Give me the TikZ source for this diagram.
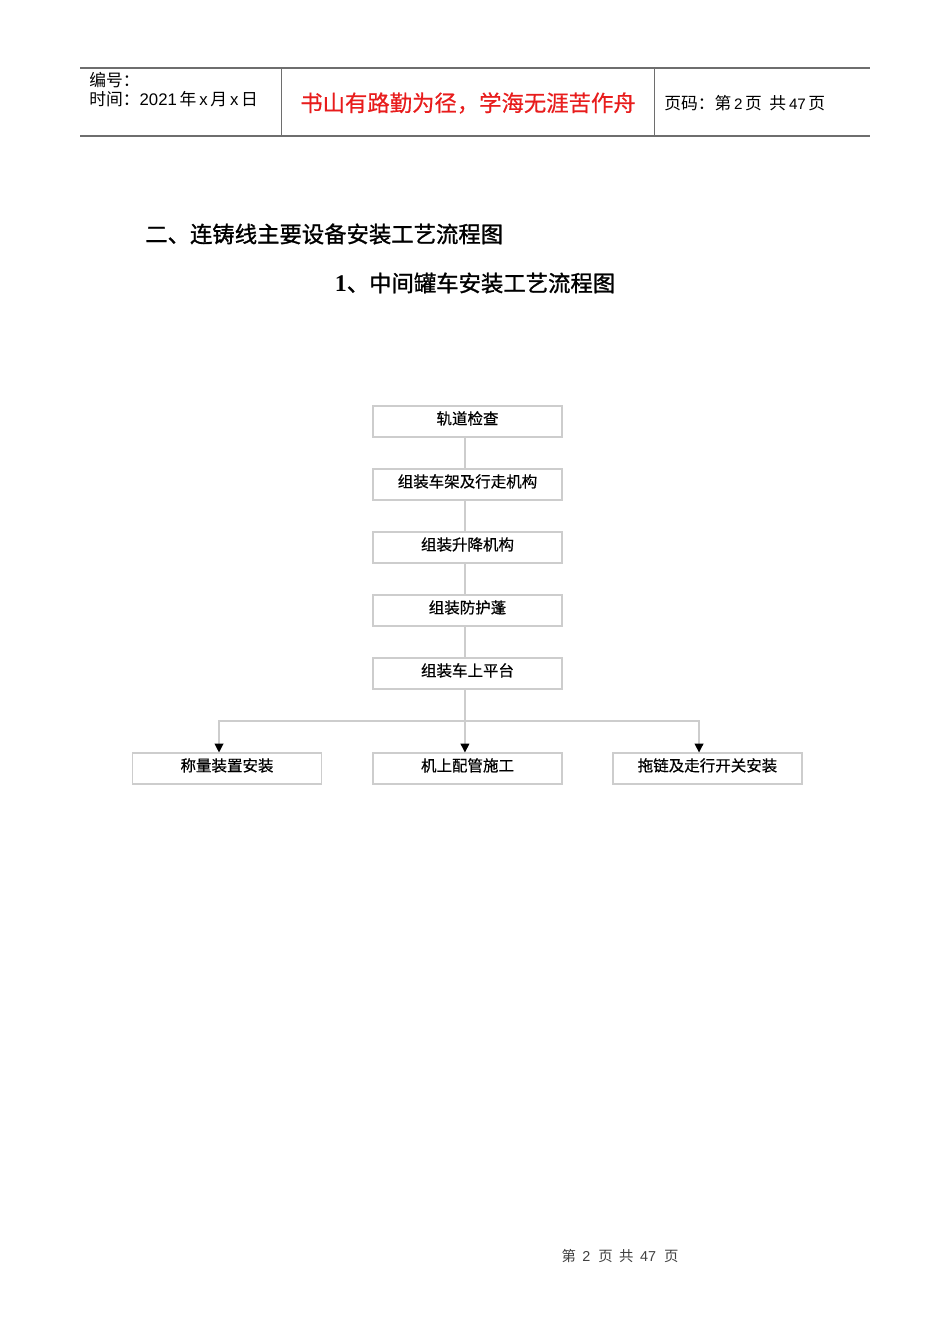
\documentclass[tikz,border=0pt]{standalone}
\usepackage{fontspec}
\usetikzlibrary{arrows.meta}
\setmainfont{Liberation Sans}
\newfontfamily\cjk{Noto Sans CJK SC}
\newfontfamily\cjkm{Noto Sans CJK SC}[FakeBold=0.5]
\newfontfamily\cjkb{Noto Sans CJK SC}[FakeBold=1.2]
\newfontfamily\lser{Liberation Serif}
\definecolor{linegray}{RGB}{205,205,205}
\definecolor{hdrgray}{RGB}{110,110,110}
\definecolor{redtxt}{RGB}{232,28,28}
\tikzset{
  stepbox/.style={draw=linegray, line width=0.7pt, minimum width=118.3pt, minimum height=19.4pt, inner sep=0pt, text depth=3pt, text height=6.5pt, font=\cjkm\fontsize{9.7pt}{11pt}\selectfont},
  conn/.style={draw=linegray, line width=0.7pt},
  arr/.style={conn, -{Triangle[length=5.5pt, width=5.5pt, color=black]}},
  hdr/.style={font=\cjk\fontsize{10.5pt}{12pt}\selectfont, inner sep=0pt, anchor=west},
  ttl/.style={font=\cjkb\fontsize{14pt}{16pt}\selectfont, inner sep=0pt},
}
\begin{document}
\begin{tikzpicture}[x=0.626pt, y=-0.626pt]
\fill[white] (0,0) rectangle (950,1344);
\useasboundingbox (0,0) rectangle (950,1344);
% header
\draw[hdrgray, line width=0.75pt] (80,68) -- (870,68);
\draw[hdrgray, line width=1.4pt] (80,136) -- (870,136);
\draw[hdrgray, line width=0.6pt] (281,68) -- (281,136);
\draw[hdrgray, line width=0.6pt] (654,68) -- (654,136);
\node[hdr] (h1) at (89,80) {编号：};
\node[hdr] (h2) at (89,99) {时间：\fontspec{Liberation Sans}2021\,\cjk 年\,\fontspec{Liberation Sans}x\,\cjk 月\,\fontspec{Liberation Sans}x\,\cjk 日};
\node[font=\cjkm\fontsize{14pt}{16pt}\selectfont, text=redtxt, inner sep=0pt] (h3) at (468,103) {书山有路勤为径，学海无涯苦作舟};
\node[hdr] (h4) at (664,103) {页码：第\,\fontspec{Liberation Sans}\fontsize{9.5pt}{12pt}\selectfont 2\,\cjk\fontsize{10.5pt}{12pt}\selectfont 页\ \ 共\,\fontspec{Liberation Sans}\fontsize{9.5pt}{12pt}\selectfont 47\,\cjk\fontsize{10.5pt}{12pt}\selectfont 页};
% titles
\node[ttl, anchor=west] (t1) at (145,234) {二、连铸线主要设备安装工艺流程图};
\node[ttl] (t2) at (475,283) {{\lser\bfseries\fontsize{15pt}{16pt}\selectfont 1}、中间罐车安装工艺流程图};
% flow boxes
\node[stepbox] (a) at (467.5,421.5) {轨道检查};
\node[stepbox] (b) at (467.5,484.5) {组装车架及行走机构};
\node[stepbox] (c) at (467.5,547.5) {组装升降机构};
\node[stepbox] (d) at (467.5,610.5) {组装防护蓬};
\node[stepbox] (e) at (467.5,673.5) {组装车上平台};
\node[stepbox] (g) at (227,768.5) {称量装置安装};
\node[stepbox] (h) at (467.5,768.5) {机上配管施工};
\node[stepbox] (i) at (707.5,768.5) {拖链及走行开关安装};
\coordinate (j) at (465,721);
% connectors
\draw[conn] ([xshift=-1.6pt]a.south) -- ([xshift=-1.6pt]b.north);
\draw[conn] ([xshift=-1.6pt]b.south) -- ([xshift=-1.6pt]c.north);
\draw[conn] ([xshift=-1.6pt]c.south) -- ([xshift=-1.6pt]d.north);
\draw[conn] ([xshift=-1.6pt]d.south) -- ([xshift=-1.6pt]e.north);
\draw[arr] ([xshift=-1.6pt]e.south) -- ([xshift=-1.6pt]h.north);
\draw[arr] (j) -| ([xshift=-5pt]g.north);
\draw[arr] (j) -| ([xshift=-5.3pt]i.north);
% footer
\node[font=\cjk\fontsize{9pt}{11pt}\selectfont, text=black!75, inner sep=0pt] (f) at (620,1256) {第\ \ \fontspec{Liberation Sans}2\ \ \cjk 页\ \ 共\ \ \fontspec{Liberation Sans}47\ \ \cjk 页};
\end{tikzpicture}
\end{document}
